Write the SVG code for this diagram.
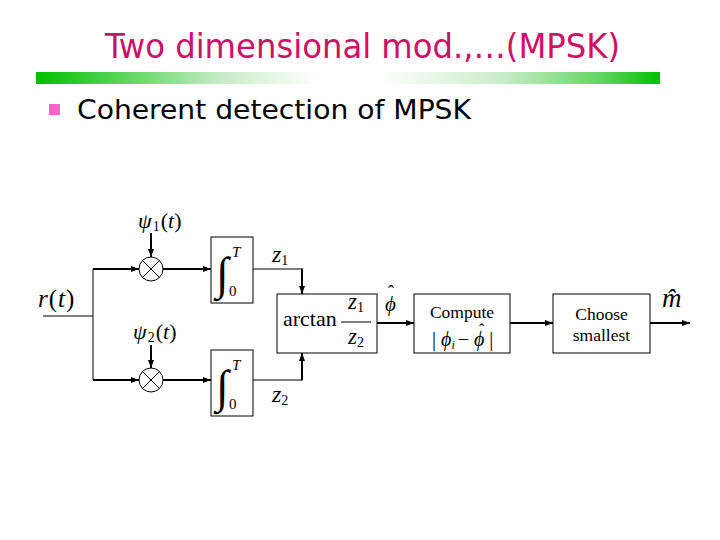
<svg xmlns="http://www.w3.org/2000/svg" width="720" height="540" viewBox="0 0 720 540">
<defs>
<linearGradient id="bar" x1="0" y1="0" x2="1" y2="0">
<stop offset="0" stop-color="#00c000"/>
<stop offset="0.12" stop-color="#4fd24f"/>
<stop offset="0.3" stop-color="#c8ecc8"/>
<stop offset="0.45" stop-color="#ffffff"/>
<stop offset="0.55" stop-color="#ffffff"/>
<stop offset="0.75" stop-color="#c8ecc8"/>
<stop offset="0.9" stop-color="#66d666"/>
<stop offset="1" stop-color="#00c000"/>
</linearGradient>
<marker id="ah" viewBox="0 0 8 6" refX="8" refY="3" markerWidth="8" markerHeight="6" markerUnits="userSpaceOnUse" orient="auto">
<path d="M0,0 L8,3 L0,6 z" fill="#000"/>
</marker>
</defs>
<style>
.box{fill:#fff;stroke:#000;stroke-width:1}
.thin{fill:none;stroke:#000;stroke-width:1}
.arr{fill:none;stroke:#000;stroke-width:2;marker-end:url(#ah)}
.m{font-family:"Liberation Serif","Times New Roman",serif;fill:#000}
.i{font-style:italic}
.h{font-family:"DejaVu Sans Condensed","DejaVu Sans",Verdana,sans-serif}
</style>
<rect width="720" height="540" fill="#fff"/>
<g id="header">
<text class="h" x="105" y="58" font-size="34" fill="#cc1166" textLength="515" lengthAdjust="spacingAndGlyphs">Two dimensional mod.,…(MPSK)</text>
<rect x="36" y="72" width="624" height="12" fill="url(#bar)"/>
<rect x="49" y="104" width="11" height="11" fill="#f766c6"/>
<text class="h" x="77" y="119" font-size="26" fill="#000" textLength="394" lengthAdjust="spacingAndGlyphs">Coherent detection of MPSK</text>
</g>
<g id="connectors">
<path class="thin" d="M43,316 H93 M93,269 V380"/>
<path class="arr" d="M93,269 H139"/>
<path class="arr" d="M93,380 H139"/>
<path class="arr" d="M151,233 V257"/>
<path class="arr" d="M151,345 V368"/>
<path class="arr" d="M163,269 H211"/>
<path class="arr" d="M163,380 H211"/>
<path class="thin" d="M253,269 H302 M253,380 H302"/>
<path class="arr" d="M302,268.5 V294"/>
<path class="arr" d="M302,380.5 V353"/>
<path class="arr" d="M377,323 H414"/>
<path class="arr" d="M510,323 H553"/>
<path class="arr" d="M650,323 H690"/>
</g>
<g id="input-label">
<text class="m" x="38" y="307" font-size="25" letter-spacing="1"><tspan class="i">r</tspan>(<tspan class="i">t</tspan>)</text>
</g>
<g id="psi1">
<text class="m" x="138" y="228" font-size="22"><tspan class="i">ψ</tspan><tspan font-size="14" dx="1" dy="3">1</tspan><tspan dx="1" dy="-3">(</tspan><tspan class="i">t</tspan>)</text>
</g>
<g id="psi2">
<text class="m" x="133" y="339" font-size="22"><tspan class="i">ψ</tspan><tspan font-size="14" dx="1" dy="3">2</tspan><tspan dx="1" dy="-3">(</tspan><tspan class="i">t</tspan>)</text>
</g>
<g id="mult1">
<circle cx="151" cy="269" r="12" class="box"/>
<path class="thin" d="M142.5,260.5 L159.5,277.5 M159.5,260.5 L142.5,277.5"/>
</g>
<g id="mult2">
<circle cx="151" cy="380" r="12" class="box"/>
<path class="thin" d="M142.5,371.5 L159.5,388.5 M159.5,371.5 L142.5,388.5"/>
</g>
<g id="int1">
<rect x="211" y="237" width="42" height="66" class="box"/>
<text class="m" x="216" y="289" font-size="46">∫<tspan class="i" x="232" y="257" font-size="15">T</tspan><tspan x="229" y="296" font-size="15">0</tspan></text>
</g>
<g id="int2">
<rect x="211" y="350" width="42" height="66" class="box"/>
<text class="m" x="216" y="402" font-size="46">∫<tspan class="i" x="232" y="370" font-size="15">T</tspan><tspan x="229" y="409" font-size="15">0</tspan></text>
</g>
<g id="z1-label">
<text class="m" x="272" y="262" font-size="24"><tspan class="i">z</tspan><tspan font-size="14" dy="3">1</tspan></text>
</g>
<g id="z2-label">
<text class="m" x="272" y="402" font-size="24"><tspan class="i">z</tspan><tspan font-size="14" dy="3">2</tspan></text>
</g>
<g id="arctan">
<rect x="277" y="294" width="100" height="59" class="box"/>
<text class="m" x="283" y="326" font-size="22">arctan</text>
<text class="m" x="348" y="309" font-size="23"><tspan class="i">z</tspan><tspan font-size="14" dy="3">1</tspan></text>
<line x1="341" y1="322" x2="371" y2="322" stroke="#000" stroke-width="1"/>
<text class="m" x="348" y="344" font-size="23"><tspan class="i">z</tspan><tspan font-size="14" dy="3">2</tspan></text>
</g>
<g id="phihat-label">
<text class="m" x="385" y="311" font-size="21"><tspan class="i">ϕ</tspan><tspan x="388" y="298" font-size="18">ˆ</tspan></text>
</g>
<g id="compute">
<rect x="414" y="294" width="96" height="59" class="box"/>
<text class="m" x="462" y="318" font-size="17.5" text-anchor="middle">Compute</text>
<text class="m" x="432" y="346" font-size="20">| <tspan class="i">ϕ</tspan><tspan class="i" font-size="12" dy="3">i</tspan><tspan dx="3" dy="-3">−</tspan> <tspan class="i">ϕ</tspan> |<tspan x="479" y="335" font-size="16">ˆ</tspan></text>
</g>
<g id="choose">
<rect x="553" y="294" width="97" height="59" class="box"/>
<text class="m" x="601.5" y="320" font-size="17.5" text-anchor="middle">Choose</text>
<text class="m" x="601.5" y="341" font-size="17.5" text-anchor="middle">smallest</text>
</g>
<g id="mhat-label">
<text class="m i" x="662" y="307" font-size="27">m̂</text>
</g>
</svg>
